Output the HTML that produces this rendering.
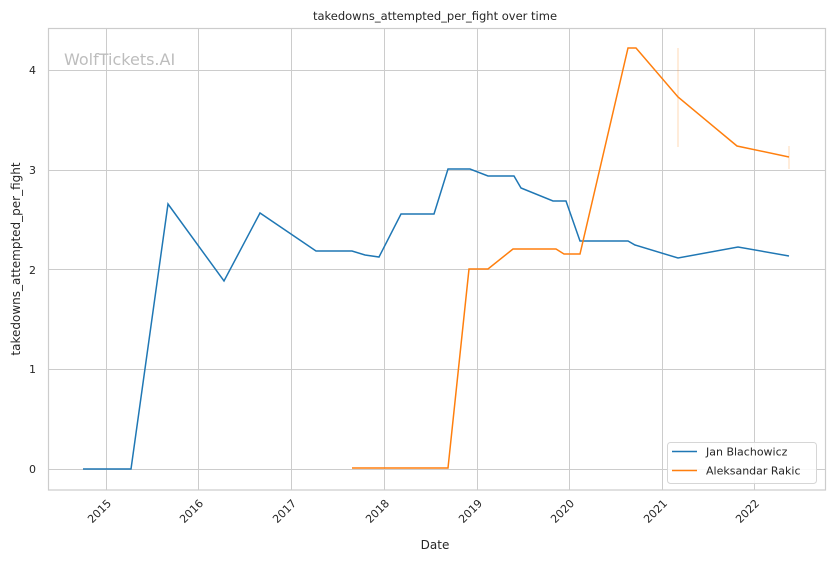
<!DOCTYPE html>
<html><head><meta charset="utf-8"><style>body{margin:0;background:#fff}svg{display:block}text{font-family:"DejaVu Sans","Liberation Sans",sans-serif;fill:#262626}</style></head>
<body>
<svg width="832" height="561" xmlns="http://www.w3.org/2000/svg">
<rect width="832" height="561" fill="#fff"/>
<g stroke="#cccccc" stroke-width="1">
<line x1="106.5" y1="28" x2="106.5" y2="490"/>
<line x1="198.5" y1="28" x2="198.5" y2="490"/>
<line x1="291.5" y1="28" x2="291.5" y2="490"/>
<line x1="384.5" y1="28" x2="384.5" y2="490"/>
<line x1="477.5" y1="28" x2="477.5" y2="490"/>
<line x1="569.5" y1="28" x2="569.5" y2="490"/>
<line x1="662.5" y1="28" x2="662.5" y2="490"/>
<line x1="754.5" y1="28" x2="754.5" y2="490"/>
<line x1="48" y1="469.5" x2="826" y2="469.5"/>
<line x1="48" y1="369.5" x2="826" y2="369.5"/>
<line x1="48" y1="269.5" x2="826" y2="269.5"/>
<line x1="48" y1="170.5" x2="826" y2="170.5"/>
<line x1="48" y1="70.5" x2="826" y2="70.5"/>
</g>
<rect x="48.5" y="28.5" width="777" height="461.5" fill="none" stroke="#cccccc" stroke-width="1.2"/>
<text x="64" y="65" font-size="16" style="fill:#bdbdbd">WolfTickets.AI</text>
<text x="435" y="20" font-size="11.5" text-anchor="middle">takedowns_attempted_per_fight over time</text>
<g font-size="11" text-anchor="end">
<text x="36" y="473">0</text><text x="36" y="373">1</text><text x="36" y="274">2</text><text x="36" y="174">3</text><text x="36" y="74">4</text>
</g>
<text transform="translate(20,259) rotate(-90)" font-size="12" text-anchor="middle">takedowns_attempted_per_fight</text>
<text x="435" y="549" font-size="12" text-anchor="middle">Date</text>
<g font-size="11" text-anchor="end">
<text transform="translate(112,504) rotate(-45)">2015</text>
<text transform="translate(204,504) rotate(-45)">2016</text>
<text transform="translate(297,504) rotate(-45)">2017</text>
<text transform="translate(390,504) rotate(-45)">2018</text>
<text transform="translate(483,504) rotate(-45)">2019</text>
<text transform="translate(575,504) rotate(-45)">2020</text>
<text transform="translate(668,504) rotate(-45)">2021</text>
<text transform="translate(760,504) rotate(-45)">2022</text>
</g>
<line x1="678" y1="48" x2="678" y2="147" stroke="#ff7f0e" stroke-opacity="0.3"/>
<line x1="789" y1="146" x2="789" y2="169" stroke="#ff7f0e" stroke-opacity="0.3"/>
<polyline fill="none" stroke="#1f77b4" stroke-width="1.5" points="83,469 131,469 168,204 224,281 260,213 316,251 352,251 365,255 379,257 401,214 434,214 448,169 470,169 488,176 514,176 521,188 553,201 560,201 566,201 580,241 628,241 635,245 678,258 738,247 789,256"/>
<polyline fill="none" stroke="#ff7f0e" stroke-width="1.5" points="352,468 448,468 469,269 488,269 513,249 556,249 564,254 580,254 628,48 636,48 678,97 737,146 789,157"/>
<rect x="667.5" y="442.5" width="149" height="41" rx="3" fill="#fff" fill-opacity="0.85" stroke="#d6d6d6"/>
<line x1="672" y1="451.5" x2="697" y2="451.5" stroke="#1f77b4" stroke-width="1.5"/>
<line x1="672" y1="470.5" x2="697" y2="470.5" stroke="#ff7f0e" stroke-width="1.5"/>
<text x="706" y="455.5" font-size="11">Jan Blachowicz</text>
<text x="706" y="474.5" font-size="11">Aleksandar Rakic</text>
</svg>
</body></html>
